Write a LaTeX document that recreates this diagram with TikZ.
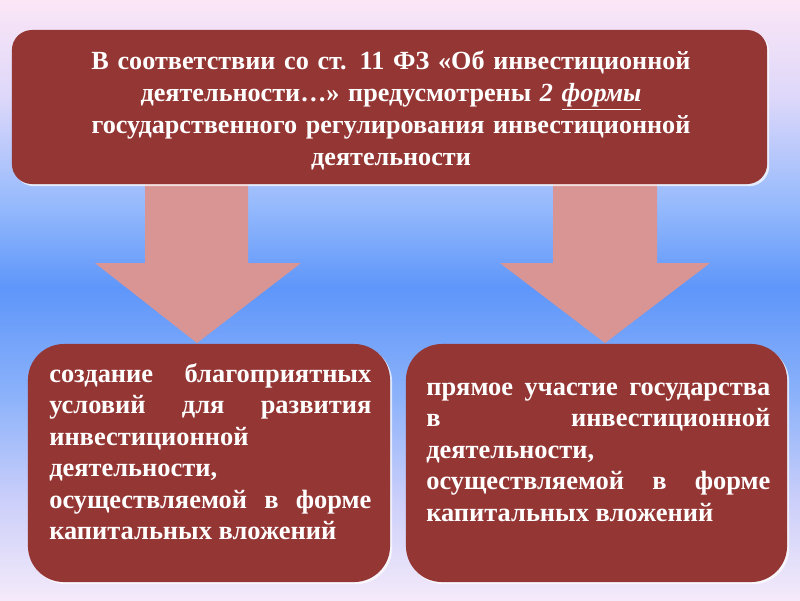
\documentclass[tikz,border=0pt]{standalone}
\usepackage{fontspec}
\setmainfont{Liberation Serif}
\usetikzlibrary{positioning,shadows}
\hyphenpenalty=10000
\exhyphenpenalty=10000

\definecolor{boxred}{RGB}{148,54,52}
\definecolor{arrowpink}{RGB}{217,149,148}
\definecolor{bgtop}{RGB}{251,230,246}
\definecolor{bgupper}{RGB}{222,216,250}
\definecolor{bgmidup}{RGB}{150,186,252}
\definecolor{bgblue}{RGB}{94,150,250}
\definecolor{bgmiddown}{RGB}{140,178,250}
\definecolor{bglower}{RGB}{205,208,250}
\definecolor{bgbottom}{RGB}{244,234,250}

\pgfdeclareverticalshading{slidebg}{100bp}{color(0bp)=(bgbottom); color(25bp)=(bgbottom);
  color(33bp)=(bglower); color(42bp)=(bgmiddown); color(51bp)=(bgblue);
  color(58bp)=(bgmidup); color(67bp)=(bgupper); color(75bp)=(bgtop); color(100bp)=(bgtop)}

\tikzset{
  redbox/.style={fill=boxred, inner sep=0pt,
    drop shadow={fill=white, opacity=.7, shadow xshift=1.5pt, shadow yshift=-1.5pt}},
  boxtext/.style={text=white, inner sep=0pt,
    font=\bfseries\fontsize{18.8}{22.4}\selectfont},
  bigarrow/.style={fill=arrowpink},
}

\begin{document}
\begin{tikzpicture}[x=0.025cm,y=-0.025cm]
  \shade[shading=slidebg] (0,0) rectangle (800,600);

  % the two arrows
  \fill[bigarrow] (145,180) -- (248,180) -- (248,263) -- (301,263)
    -- (197,343) -- (95,263) -- (145,263) -- cycle;
  \fill[bigarrow] (553,180) -- (657,180) -- (657,263) -- (710,263)
    -- (605,343) -- (500,263) -- (553,263) -- cycle;

  \node[redbox, rounded corners=0.5cm, minimum width=18.875cm, minimum height=3.85cm]
    (law) at (389.5,107) {};
  \node[boxtext, anchor=base, text width=17cm, align=center, font=\bfseries\fontsize{18.6}{22.8}\selectfont]
    (lawtext) at (391,69.3) {В соответствии со ст. 11 ФЗ «Об инвестиционной\\
    деятельности…» предусмотрены \textit{2 \underline{формы}}\\
    государственного регулирования инвестиционной\\
    деятельности};

  \node[redbox, rounded corners=0.9cm, minimum width=9.05cm, minimum height=5.95cm]
    (formA) at (209,463) {};
  \node[boxtext, anchor=base west, text width=8.05cm, align=justify]
    (formAtext) at (49,382) {создание благоприятных\linebreak
    условий для развития\linebreak инвестиционной\newline
    деятельности,\newline осуществляемой в форме\linebreak
    капитальных вложений};

  \node[redbox, rounded corners=0.9cm, minimum width=9.525cm, minimum height=5.95cm]
    (formB) at (596.5,463) {};
  \node[boxtext, anchor=base west, text width=8.6cm, align=justify]
    (formBtext) at (426,395) {прямое участие государства\linebreak
    в инвестиционной\linebreak деятельности,\newline
    осуществляемой в форме\linebreak капитальных вложений};
\end{tikzpicture}
\end{document}
